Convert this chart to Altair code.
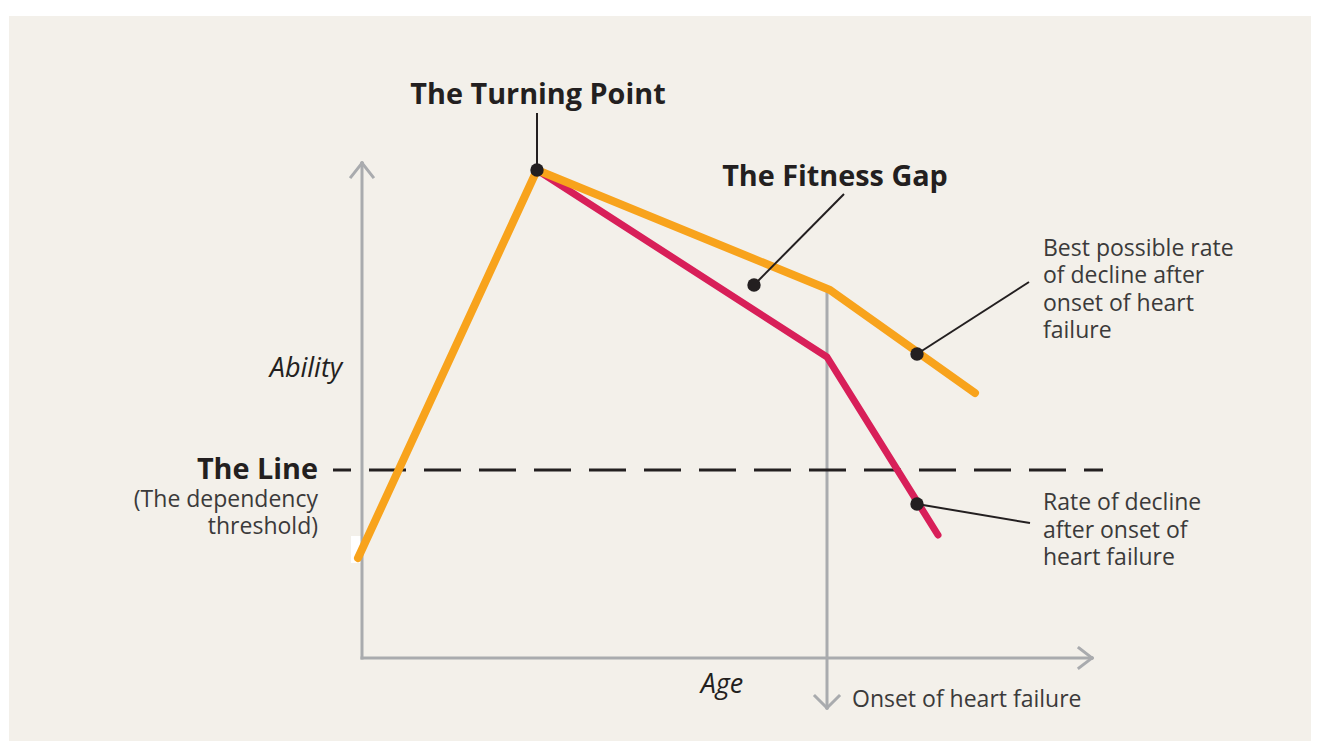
import altair as alt
import pandas as pd

# Diagram coordinates: "age" to the right of the axes origin, "ability" upward (arbitrary units)
best_age = [-4, 175, 468, 613]
best_ability = [100, 488, 368, 265]

hf_age = [175, 465, 576]
hf_ability = [488, 301, 123]

dot_age = [175, 392, 555, 555]
dot_ability = [488, 373, 304, 154]

# leader lines: start (dot) -> end (label)
leader_x = [175, 392, 555, 555]
leader_y = [488, 373, 304, 154]
leader_x2 = [175, 482, 667, 668]
leader_y2 = [545, 464, 376, 135]

# gray axis strokes (x, y, x2, y2): y axis, x axis, arrow heads, onset marker
axis_x = [0, 0, 0, 0, 717, 717, 465, 465, 465]
axis_y = [0, 0, 495, 495, 10, -10, 368, -50, -50]
axis_x2 = [0, 730, -11, 11, 730, 730, 465, 453, 477]
axis_y2 = [495, 0, 481, 481, 0, 0, -50, -38, -38]

line_level = 188
line_start, line_end = -29, 741

bold_labels = ["The Turning Point", "The Fitness Gap"]
bold_x = [176, 473]
bold_y = [563, 481]

italic_labels = ["Ability", "Age"]
italic_x = [-56, 360]
italic_y = [289, -27]

left_labels = ["Best possible rate", "of decline after", "onset of heart", "failure",
               "Rate of decline", "after onset of", "heart failure",
               "Onset of heart failure"]
left_x = [681, 681, 681, 681, 681, 681, 681, 490]
left_y = [409, 382, 354, 327, 155, 127, 100, -42]

right_labels = ["(The dependency", "threshold)"]
right_x = [-44, -44]
right_y = [158, 131]

XD = [-354, 949]
YD = [-83, 650]
xs = alt.Scale(domain=XD, nice=False, zero=False)
ys = alt.Scale(domain=YD, nice=False, zero=False)

DARK = "#231f20"
TEXT = "#3b3a3a"
GRAY = "#a9abae"
ORANGE = "#f8a31c"
RED = "#d81f59"
BG = "#f3f0ea"
FONT = "Open Sans"


def X(f):
    return alt.X(f, type="quantitative", scale=xs, axis=None)


def Y(f):
    return alt.Y(f, type="quantitative", scale=ys, axis=None)


bg = alt.Chart(pd.DataFrame({"x": [-353], "x2": [949], "y": [642], "y2": [-83]})).mark_rect(
    color=BG).encode(x=X("x"), x2="x2", y=Y("y"), y2="y2")

patch = alt.Chart(pd.DataFrame({"x": [-11], "x2": [0], "y": [122], "y2": [95]})).mark_rect(
    color="white").encode(x=X("x"), x2="x2", y=Y("y"), y2="y2")

axes_df = pd.DataFrame({"x": axis_x, "y": axis_y, "x2": axis_x2, "y2": axis_y2})
axes = alt.Chart(axes_df).mark_rule(color=GRAY, strokeWidth=3, strokeCap="square").encode(
    x=X("x"), y=Y("y"), x2="x2", y2="y2")

dash = alt.Chart(pd.DataFrame({"x": [line_start], "x2": [line_end], "y": [line_level]})).mark_rule(
    color=DARK, strokeWidth=3, strokeDash=[37, 18], strokeDashOffset=19).encode(
    x=X("x"), x2="x2", y=Y("y"))

hf = alt.Chart(pd.DataFrame({"age": hf_age, "ability": hf_ability, "i": range(len(hf_age))})).mark_line(
    color=RED, strokeWidth=7, strokeCap="round", strokeJoin="round").encode(
    x=X("age"), y=Y("ability"), order="i:O")

best = alt.Chart(pd.DataFrame({"age": best_age, "ability": best_ability, "i": range(len(best_age))})).mark_line(
    color=ORANGE, strokeWidth=8, strokeCap="round", strokeJoin="round").encode(
    x=X("age"), y=Y("ability"), order="i:O")

leaders = alt.Chart(pd.DataFrame({"x": leader_x, "y": leader_y, "x2": leader_x2, "y2": leader_y2})).mark_rule(
    color=DARK, strokeWidth=2).encode(x=X("x"), y=Y("y"), x2="x2", y2="y2")

dots = alt.Chart(pd.DataFrame({"age": dot_age, "ability": dot_ability})).mark_circle(
    color=DARK, opacity=1, size=180).encode(x=X("age"), y=Y("ability"))

bold_txt = alt.Chart(pd.DataFrame({"t": bold_labels, "x": bold_x, "y": bold_y})).mark_text(
    font=FONT, fontWeight="bold", fontSize=28.8, color=DARK, align="center", baseline="middle").encode(
    x=X("x"), y=Y("y"), text="t")

line_txt = alt.Chart(pd.DataFrame({"t": ["The Line"], "x": [-44], "y": [line_level]})).mark_text(
    font=FONT, fontWeight="bold", fontSize=28.8, color=DARK, align="right", baseline="middle").encode(
    x=X("x"), y=Y("y"), text="t")

ital_txt = alt.Chart(pd.DataFrame({"t": italic_labels, "x": italic_x, "y": italic_y})).mark_text(
    font=FONT, fontStyle="italic", fontSize=27, color=DARK, align="center", baseline="middle").encode(
    x=X("x"), y=Y("y"), text="t")

left_txt = alt.Chart(pd.DataFrame({"t": left_labels, "x": left_x, "y": left_y})).mark_text(
    font=FONT, fontSize=23, color=TEXT, align="left", baseline="middle").encode(
    x=X("x"), y=Y("y"), text="t")

right_txt = alt.Chart(pd.DataFrame({"t": right_labels, "x": right_x, "y": right_y})).mark_text(
    font=FONT, fontSize=23, color=TEXT, align="right", baseline="middle").encode(
    x=X("x"), y=Y("y"), text="t")

chart = alt.layer(
    bg, patch, axes, dash, hf, best, leaders, dots,
    bold_txt, line_txt, ital_txt, left_txt, right_txt
).properties(
    width=1303, height=733, padding=0, autosize="none", background="white"
).configure_view(strokeWidth=0)

chart.save("out.html", embed_options={"renderer": "svg", "actions": False})
